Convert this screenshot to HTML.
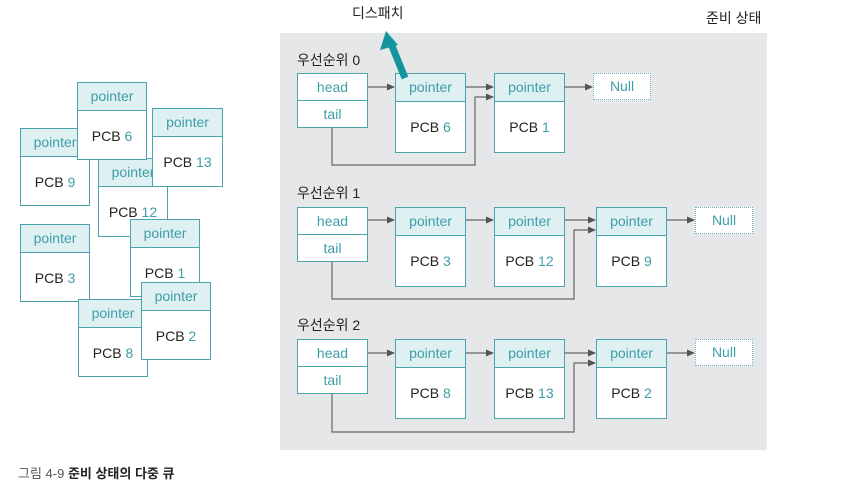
<!DOCTYPE html>
<html><head><meta charset="utf-8"><style>
body{margin:0;width:845px;height:486px;background:#fff;position:relative;overflow:hidden;font-family:"Liberation Sans","Noto Sans CJK KR",sans-serif;}
.a{position:absolute}
.n{position:absolute;width:68px;height:78px;border:1.5px solid #4aa3ad;background:#fff;box-sizing:border-box}
.n .h{height:27px;background:#dff0f3;border-bottom:1.5px solid #4aa3ad;color:#3d9ea8;font-size:14px;line-height:26px;text-align:center;overflow:hidden;white-space:nowrap}
.n .b{font-size:14px;color:#222;text-align:center;line-height:50px}
.n .b span{color:#3d9ea8}
.hb{position:absolute;width:71px;height:55px;border:1.5px solid #4aa3ad;background:#fff;box-sizing:border-box;color:#3d9ea8;font-size:14px;text-align:center}
.hb div{height:26px;line-height:26px}
.hb div:first-child{border-bottom:1.5px solid #4aa3ad}
.nl{position:absolute;width:58px;height:27px;border:1.5px dotted #6bb3bb;background:#fff;box-sizing:border-box;color:#3d9ea8;font-size:14px;line-height:25px;text-align:center}
.lb{position:absolute;font-size:14px;color:#222}
</style></head><body>
<!-- left scattered -->
<div class="n" style="left:98px;top:158px;width:70px;height:79px"><div class="h">pointer</div><div class="b">PCB <span>12</span></div></div>
<div class="n" style="left:20px;top:128px;width:70px"><div class="h">pointer</div><div class="b">PCB <span>9</span></div></div>
<div class="n" style="left:77px;top:82px;width:70px"><div class="h">pointer</div><div class="b">PCB <span>6</span></div></div>
<div class="n" style="left:152px;top:108px;width:71px;height:79px"><div class="h">pointer</div><div class="b">PCB <span>13</span></div></div>
<div class="n" style="left:20px;top:224px;width:70px"><div class="h">pointer</div><div class="b">PCB <span>3</span></div></div>
<div class="n" style="left:130px;top:219px;width:70px"><div class="h">pointer</div><div class="b">PCB <span>1</span></div></div>
<div class="n" style="left:78px;top:299px;width:70px"><div class="h">pointer</div><div class="b">PCB <span>8</span></div></div>
<div class="n" style="left:141px;top:282px;width:70px"><div class="h">pointer</div><div class="b">PCB <span>2</span></div></div>

<div class="a" style="left:280px;top:33px;width:487px;height:417px;background:#e6e7e8"></div>
<div class="lb" style="left:352px;top:3px">디스패치</div>
<div class="lb" style="left:706px;top:8px">준비 상태</div>

<svg class="a" style="left:0;top:0" width="845" height="486">
<defs><marker id="m" markerWidth="8" markerHeight="8" refX="7" refY="4" orient="auto" markerUnits="userSpaceOnUse"><path d="M0,0.5 L8,4 L0,7.5z" fill="#555"/></marker></defs>
<g stroke="#666" stroke-width="1.2" fill="none">
<line x1="367" y1="87" x2="394" y2="87" marker-end="url(#m)"/>
<line x1="465" y1="87" x2="493" y2="87" marker-end="url(#m)"/>
<line x1="564" y1="87" x2="592" y2="87" marker-end="url(#m)"/>
<polyline points="332,127 332,165 475,165 475,97 493,97" marker-end="url(#m)"/>
<line x1="367" y1="220" x2="394" y2="220" marker-end="url(#m)"/>
<line x1="465" y1="220" x2="493" y2="220" marker-end="url(#m)"/>
<line x1="564" y1="220" x2="595" y2="220" marker-end="url(#m)"/>
<line x1="666" y1="220" x2="694" y2="220" marker-end="url(#m)"/>
<polyline points="332,260 332,299 574,299 574,230 595,230" marker-end="url(#m)"/>
<line x1="367" y1="353" x2="394" y2="353" marker-end="url(#m)"/>
<line x1="465" y1="353" x2="493" y2="353" marker-end="url(#m)"/>
<line x1="564" y1="353" x2="595" y2="353" marker-end="url(#m)"/>
<line x1="666" y1="353" x2="694" y2="353" marker-end="url(#m)"/>
<polyline points="332,393 332,432 574,432 574,363 595,363" marker-end="url(#m)"/>
</g>
</svg>

<div class="lb" style="left:297px;top:50px">우선순위 0</div>
<div class="hb" style="left:297px;top:73px"><div>head</div><div>tail</div></div>
<div class="n" style="left:395px;top:73px;width:71px;height:80px"><div class="h">pointer</div><div class="b">PCB <span>6</span></div></div>
<div class="n" style="left:494px;top:73px;width:71px;height:80px"><div class="h">pointer</div><div class="b">PCB <span>1</span></div></div>
<div class="nl" style="left:593px;top:73px">Null</div>

<div class="lb" style="left:297px;top:183px">우선순위 1</div>
<div class="hb" style="left:297px;top:207px"><div>head</div><div>tail</div></div>
<div class="n" style="left:395px;top:207px;width:71px;height:80px"><div class="h">pointer</div><div class="b">PCB <span>3</span></div></div>
<div class="n" style="left:494px;top:207px;width:71px;height:80px"><div class="h">pointer</div><div class="b">PCB <span>12</span></div></div>
<div class="n" style="left:596px;top:207px;width:71px;height:80px"><div class="h">pointer</div><div class="b">PCB <span>9</span></div></div>
<div class="nl" style="left:695px;top:207px">Null</div>

<div class="lb" style="left:297px;top:315px">우선순위 2</div>
<div class="hb" style="left:297px;top:339px"><div>head</div><div>tail</div></div>
<div class="n" style="left:395px;top:339px;width:71px;height:80px"><div class="h">pointer</div><div class="b">PCB <span>8</span></div></div>
<div class="n" style="left:494px;top:339px;width:71px;height:80px"><div class="h">pointer</div><div class="b">PCB <span>13</span></div></div>
<div class="n" style="left:596px;top:339px;width:71px;height:80px"><div class="h">pointer</div><div class="b">PCB <span>2</span></div></div>
<div class="nl" style="left:695px;top:339px">Null</div>

<svg class="a" style="left:0;top:0" width="845" height="486">
<line x1="405" y1="78" x2="392" y2="46" stroke="#13949e" stroke-width="7"/>
<path d="M386,31 L380,50 L398,45z" fill="#13949e"/>
</svg>

<div class="a" style="left:18px;top:463px;font-size:13px;color:#555">그림 4-9 <b style="color:#222">준비 상태의 다중 큐</b></div>
</body></html>
